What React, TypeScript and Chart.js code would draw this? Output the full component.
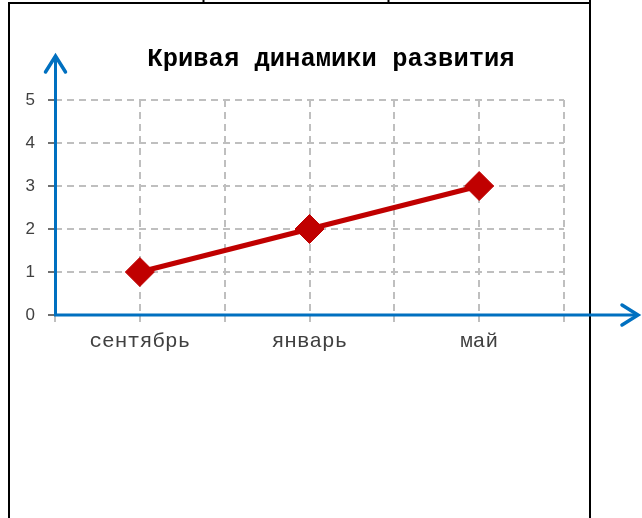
import React, { useEffect, useRef } from "react";
import { Chart, registerables } from "chart.js";

Chart.register(...registerables);

const title = "Кривая динамики развития";
const categories = ["сентябрь", "январь", "май"];
const values = [1, 2, 3];
const yTicks = [0, 1, 2, 3, 4, 5];

const AXIS_BLUE = "#0070C0";
const LINE_RED = "#C00000";
const GRID = "#BFBFBF";

const decorPlugin = {
  id: "decor",
  afterDraw(chart: any) {
    const { ctx, chartArea } = chart;
    const H = chart.height;
    ctx.save();
    // table borders
    ctx.strokeStyle = "#000";
    ctx.lineWidth = 2;
    ctx.beginPath();
    ctx.moveTo(8, 3);
    ctx.lineTo(591, 3);
    ctx.moveTo(9, 3);
    ctx.lineTo(9, H);
    ctx.moveTo(590, 0);
    ctx.lineTo(590, H);
    ctx.moveTo(203.5, 0);
    ctx.lineTo(203.5, 3);
    ctx.moveTo(388.5, 0);
    ctx.lineTo(388.5, 3);
    ctx.stroke();

    // title
    ctx.fillStyle = "#000";
    ctx.font = 'bold 25.5px "Liberation Mono", "Courier New", monospace';
    ctx.textAlign = "center";
    ctx.textBaseline = "alphabetic";
    ctx.fillText(title, 331, 66);

    // axes
    const x0 = chartArea.left + 0.5;
    const y0 = chart.scales.y.getPixelForValue(0);
    ctx.strokeStyle = AXIS_BLUE;
    ctx.lineWidth = 3;
    ctx.lineCap = "butt";
    ctx.beginPath();
    ctx.moveTo(x0, y0 + 1.5);
    ctx.lineTo(x0, 57);
    ctx.moveTo(x0 - 1.5, y0);
    ctx.lineTo(637, y0);
    ctx.stroke();
    ctx.lineWidth = 3.5;
    ctx.lineCap = "round";
    ctx.lineJoin = "miter";
    ctx.beginPath();
    ctx.moveTo(x0 - 10, 72);
    ctx.lineTo(x0, 56);
    ctx.lineTo(x0 + 10, 72);
    ctx.moveTo(622, y0 - 10);
    ctx.lineTo(638, y0);
    ctx.lineTo(622, y0 + 10);
    ctx.stroke();
    ctx.restore();
  },
};

export default function App() {
  const ref = useRef<HTMLCanvasElement | null>(null);
  useEffect(() => {
    if (!ref.current) return;
    const chart = new Chart(ref.current, {
      type: "line",
      data: {
        datasets: [
          {
            data: values.map((v, i) => ({ x: i, y: v })),
            borderColor: LINE_RED,
            backgroundColor: LINE_RED,
            borderWidth: 5,
            pointStyle: "rectRot",
            pointRadius: 14.5,
            pointBorderWidth: 1,
            pointBackgroundColor: LINE_RED,
            pointBorderColor: LINE_RED,
            tension: 0,
          },
        ],
      },
      options: {
        animation: false,
        responsive: false,
        layout: { padding: { top: 100, right: 78, left: 0, bottom: 0 } },
        plugins: {
          legend: { display: false },
          title: { display: false },
          tooltip: { enabled: false },
        },
        scales: {
          x: {
            type: "linear",
            min: -0.5,
            max: categories.length - 0.5,
            afterBuildTicks: (scale: any) => {
              const t: any[] = [];
              for (let k = 0; k <= categories.length * 2; k++) t.push({ value: -0.5 + k * 0.5 });
              scale.ticks = t;
            },
            afterFit: (scale: any) => {
              scale.height = 203;
            },
            ticks: {
              autoSkip: false,
              maxRotation: 0,
              padding: 7,
              color: "#404040",
              font: { family: '"Liberation Mono", "Courier New", monospace', size: 21 },
              callback: (v: any) => {
                const n = Number(v);
                return Number.isInteger(n) ? categories[n] : "";
              },
            },
            grid: {
              color: GRID,
              lineWidth: 2,
              drawTicks: true,
              tickLength: 7,
              tickColor: GRID,
              tickWidth: 2,
            },
            border: { display: false, dash: [7, 5] },
          },
          y: {
            min: yTicks[0],
            max: yTicks[yTicks.length - 1],
            afterFit: (scale: any) => {
              scale.width = 55;
            },
            ticks: {
              stepSize: 1,
              padding: 13,
              color: "#404040",
              font: { family: '"Liberation Sans", Arial, sans-serif', size: 17 },
            },
            grid: {
              color: GRID,
              lineWidth: 2,
              drawTicks: true,
              tickLength: 7,
              tickColor: "#404040",
              tickWidth: 1.5,
            },
            border: { display: false, dash: [7, 5] },
          },
        },
      },
      plugins: [decorPlugin],
    });
    return () => chart.destroy();
  }, []);
  return (
    <div style={{ position: "absolute", left: 0, top: 0, width: 642, height: 518, background: "#fff" }}>
      <canvas ref={ref} width={642} height={518} />
    </div>
  );
}
